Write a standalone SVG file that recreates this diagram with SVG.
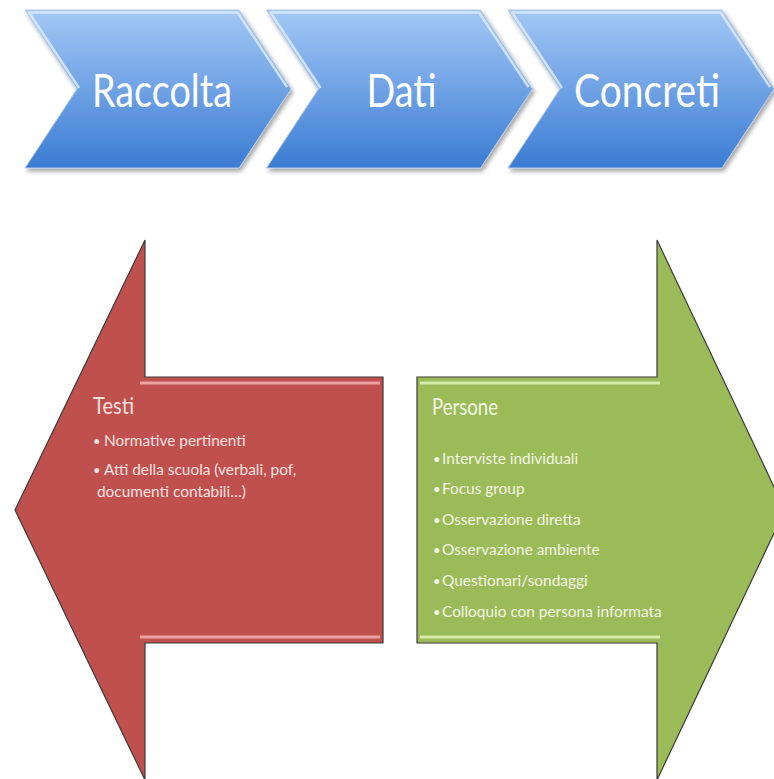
<svg xmlns="http://www.w3.org/2000/svg" width="774" height="779" viewBox="0 0 774 779">
<style>
.chev{fill:url(#blue);stroke:#b3c9e6;stroke-width:1}
.hl{fill:none;stroke:#dceafb;stroke-width:2.5;stroke-opacity:.85;stroke-linejoin:round}
.ct{font-family:Lato,"Open Sans",sans-serif;font-size:47px;fill:#ffffff;text-anchor:middle}
.hd{font-family:Lato,"Open Sans",sans-serif;font-size:23px}
.bt{font-family:Lato,"Open Sans",sans-serif;font-size:15.4px}
.bl{font-family:Lato,"Open Sans",sans-serif;font-size:13px}
.red text{fill:#f7e1e0}
.grn text{fill:#f1f6e2}
</style>
<defs>
<linearGradient id="blue" x1="0" y1="0" x2="0" y2="1">
<stop offset="0" stop-color="#a3c8f6"/>
<stop offset="1" stop-color="#3b7cd3"/>
</linearGradient>
<filter id="sh" x="-10%" y="-10%" width="120%" height="130%">
<feDropShadow dx="2" dy="3" stdDeviation="2" flood-color="#000" flood-opacity="0.35"/>
</filter>
<path id="chevp" d="M0,10 L214,10 L266,89 L214,168 L0,168 L52,89 Z"/>
<path id="chevh" d="M54,88 L4,12.5 L212.5,12.5 L262,87"/>
</defs>
<rect width="774" height="779" fill="#ffffff"/>

<g id="chevron-raccolta" transform="translate(25,0)">
<use href="#chevp" class="chev" filter="url(#sh)"/>
<use href="#chevh" class="hl"/>
<text class="ct" x="137" y="107" textLength="140" lengthAdjust="spacingAndGlyphs">Raccolta</text>
</g>
<g id="chevron-dati" transform="translate(266.5,0)">
<use href="#chevp" class="chev" filter="url(#sh)"/>
<use href="#chevh" class="hl"/>
<text class="ct" x="135" y="107" textLength="70" lengthAdjust="spacingAndGlyphs">Dati</text>
</g>
<g id="chevron-concreti" transform="translate(508,0)">
<use href="#chevp" class="chev" filter="url(#sh)"/>
<use href="#chevh" class="hl"/>
<text class="ct" x="139" y="107" textLength="146" lengthAdjust="spacingAndGlyphs">Concreti</text>
</g>

<g id="connectors"></g>

<g id="testi" class="red">
<path d="M15,510 L145,240 L145,377 L383,377 L383,643 L145,643 L145,780 Z" fill="#c0504d" stroke="#3a3a3a" stroke-width="1.2"/>
<path d="M140,383 L380,383 M140,637 L380,637" stroke="#eba3a1" stroke-width="3" fill="none"/>
<text class="hd" x="93" y="414" textLength="41" lengthAdjust="spacingAndGlyphs">Testi</text>
<text class="bl" x="93" y="446">•</text>
<text class="bt" x="104" y="446">Normative pertinenti</text>
<text class="bl" x="93" y="475">•</text>
<text class="bt" x="104" y="475">Atti della scuola (verbali, pof,</text>
<text class="bt" x="97" y="497">documenti contabili…)</text>
</g>

<g id="persone" class="grn">
<path d="M417,377 L657,377 L657,240 L785,510 L657,780 L657,643 L417,643 Z" fill="#9bbb59" stroke="#3a3a3a" stroke-width="1.2"/>
<path d="M420,383 L660,383 M420,637 L660,637" stroke="#d8eaa9" stroke-width="3" fill="none"/>
<text class="hd" x="432" y="415" textLength="66" lengthAdjust="spacingAndGlyphs">Persone</text>
<text class="bl" x="433" y="464">•</text>
<text class="bt" x="442" y="464">Interviste individuali</text>
<text class="bl" x="433" y="494">•</text>
<text class="bt" x="442" y="494">Focus group</text>
<text class="bl" x="433" y="525">•</text>
<text class="bt" x="442" y="525">Osservazione diretta</text>
<text class="bl" x="433" y="555">•</text>
<text class="bt" x="442" y="555">Osservazione ambiente</text>
<text class="bl" x="433" y="586">•</text>
<text class="bt" x="442" y="586">Questionari/sondaggi</text>
<text class="bl" x="433" y="617">•</text>
<text class="bt" x="442" y="617">Colloquio con persona informata</text>
</g>
</svg>
